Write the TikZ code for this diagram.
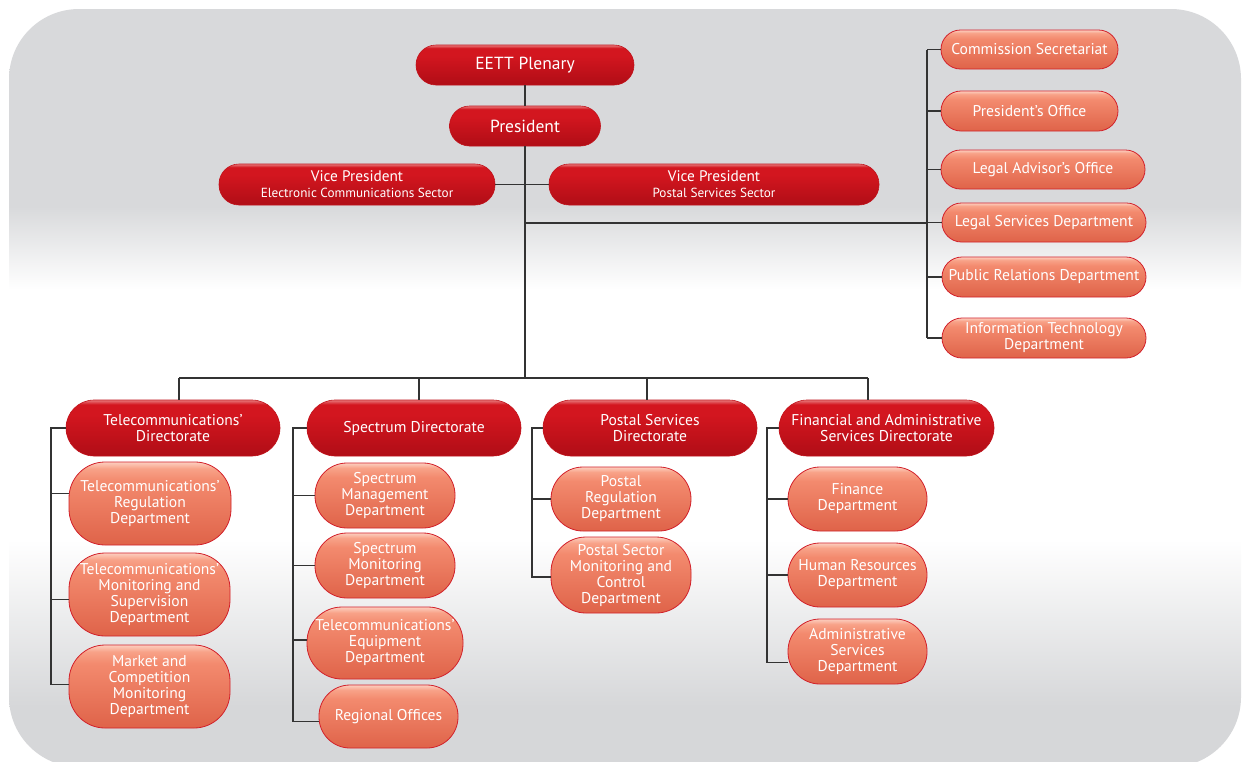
\documentclass[tikz,border=0pt]{standalone}
\usepackage{fontspec}
\setmainfont{PT Sans}
\definecolor{dkbot}{HTML}{B00D16}
\definecolor{dkmid}{HTML}{D3161F}
\definecolor{dktop}{HTML}{E77A7C}
\definecolor{dkedge}{HTML}{C0121B}
\definecolor{ltbot}{HTML}{DF6349}
\definecolor{ltmid}{HTML}{F38A6E}
\definecolor{lttop}{HTML}{F8A288}
\definecolor{lthl}{HTML}{FCCFC0}
\definecolor{ltedge}{HTML}{D2202A}
\definecolor{bggray}{HTML}{D8D9DB}
\definecolor{bggrayb}{HTML}{D6D7D9}
\definecolor{linec}{HTML}{333333}
\pgfdeclareverticalshading{dkshade}{100bp}{color(0bp)=(dkbot); color(25bp)=(dkbot); color(62bp)=(dkmid); color(71bp)=(dkmid); color(75bp)=(dktop); color(100bp)=(dktop)}
\pgfdeclareverticalshading{ltshade}{100bp}{color(0bp)=(ltbot); color(25bp)=(ltbot); color(64bp)=(ltmid); color(71bp)=(lttop); color(75bp)=(lthl); color(100bp)=(lthl)}
\pgfdeclareverticalshading{bgshade}{100bp}{color(0bp)=(bggrayb); color(29bp)=(bggrayb); color(40bp)=(white); color(56.5bp)=(white); color(62bp)=(bggray); color(100bp)=(bggray)}
\newcommand\fbig{\fontsize{17.5}{20}\selectfont}
\newcommand\fvp{\fontsize{15.3}{16}\selectfont}
\newcommand\fvps{\fontsize{13.2}{14}\selectfont}
\newcommand\fbx{\fontsize{15.6}{16}\selectfont}
\tikzset{
  dk/.style={shade, shading=dkshade, draw=dkedge, line width=0.6pt, text=white, align=center, inner sep=0pt, font=\fbx},
  lt/.style={shade, shading=ltshade, draw=ltedge, line width=0.8pt, text=white, align=center, inner sep=0pt, font=\fbx},
  sz/.style 2 args={minimum width=#1pt, minimum height=#2pt},
  rc/.style={rounded corners=#1pt},
  conn/.style={draw=linec, line width=1.4pt},
}
\begin{document}
\begin{tikzpicture}[x=1pt,y=-1pt]
\useasboundingbox (0,0) rectangle (1246,761);
\path[shade, shading=bgshade, rounded corners=70pt] (9,9) rectangle (1241,767);
% top
\node[dk, sz={218}{40}, rc=20, font=\fbig] (plen) at (525,65) {EETT Plenary};
\node[dk, sz={151}{40}, rc=20, font=\fbig] (pres) at (525,126) {President};
\node[dk, sz={276}{41}, rc=20, font=\fvp] (vp1) at (357,184.5) {Vice President\\{\fvps Electronic Communications Sector}};
\node[dk, sz={330}{41}, rc=20, font=\fvp] (vp2) at (714,184.5) {Vice President\\{\fvps Postal Services Sector}};
% right column
\node[lt, sz={177}{39}, rc=19.5] (r1) at (1029.5,49.5) {Commission Secretariat};
\node[lt, sz={177}{40}, rc=20] (r2) at (1029.5,111) {President’s Office};
\node[lt, sz={204}{39}, rc=19.5] (r3) at (1043,169.5) {Legal Advisor’s Office};
\node[lt, sz={204}{39}, rc=19.5] (r4) at (1044,222.5) {Legal Services Department};
\node[lt, sz={204}{40}, rc=20] (r5) at (1044,277) {Public Relations Department};
\node[lt, sz={204}{40}, rc=20] (r6) at (1044,338) {Information Technology\\Department};
% directorates
\node[dk, sz={214}{56}, rc=28] (d1) at (173,428) {Telecommunications’\\Directorate};
\node[dk, sz={214}{56}, rc=28] (d2) at (414,428) {Spectrum Directorate};
\node[dk, sz={214}{56}, rc=28] (d3) at (650,428) {Postal Services\\Directorate};
\node[dk, sz={215}{56}, rc=28] (d4) at (886.5,428) {Financial and Administrative\\Services Directorate};
% telecom
\node[lt, sz={162}{83}, rc=36] (t1) at (150,503.5) {Telecommunications’\\Regulation\\Department};
\node[lt, sz={161}{83}, rc=36] (t2) at (149.5,594.5) {Telecommunications’\\Monitoring and\\Supervision\\Department};
\node[lt, sz={161}{83}, rc=36] (t3) at (149.5,686.5) {Market and\\Competition\\Monitoring\\Department};
% spectrum
\node[lt, sz={140}{65}, rc=32] (s1) at (385,495.5) {Spectrum\\Management\\Department};
\node[lt, sz={140}{65}, rc=32] (s2) at (385,565.5) {Spectrum\\Monitoring\\Department};
\node[lt, sz={156}{72}, rc=35] (s3) at (385,643) {Telecommunications’\\Equipment\\Department};
\node[lt, sz={139}{63}, rc=31] (s4) at (388.5,716.5) {Regional Offices};
% postal
\node[lt, sz={140}{64}, rc=32] (p1) at (621,499) {Postal\\Regulation\\Department};
\node[lt, sz={140}{76}, rc=35] (p2) at (621,575) {Postal Sector\\Monitoring and\\Control\\Department};
% financial
\node[lt, sz={139}{64}, rc=32] (f1) at (857.5,499) {Finance\\Department};
\node[lt, sz={139}{64}, rc=32] (f2) at (857.5,575) {Human Resources\\Department};
\node[lt, sz={139}{65}, rc=32] (f3) at (857.5,651.5) {Administrative\\Services\\Department};
% coordinates
\coordinate (b1) at (179,378);
\coordinate (b2) at (419,378);
\coordinate (b3) at (647,378);
\coordinate (b4) at (868,378);
\coordinate (rcol) at (927,223);
\coordinate (tc) at (51,428);
\coordinate (sc) at (293,428);
\coordinate (pc) at (532,428);
\coordinate (fc) at (767,428);
% connectors top
\draw[conn] (plen) -- (pres);
\draw[conn] (pres.south) -- (pres.south |- b1);
\draw[conn] (vp1.east) -- (vp2.west);
\draw[conn] (pres.south |- rcol) -- (rcol);
\draw[conn] (rcol |- r1.west) -- (rcol |- r6.west);
\foreach \n in {r1,r2,r3,r4,r5,r6} \draw[conn] (rcol |- \n.west) -- (\n.west);
% bus
\draw[conn] (b1) -- (b4);
\draw[conn] (b1) -- (b1 |- d1.north);
\draw[conn] (b2) -- (b2 |- d2.north);
\draw[conn] (b3) -- (b3 |- d3.north);
\draw[conn] (b4) -- (b4 |- d4.north);
% telecom column
\draw[conn] (d1.west) -- (tc |- d1.west) |- ([yshift=2pt]t3.west);
\draw[conn] (tc |- t1.west) ++(0,-10) -- ([yshift=10pt]t1.west);
\draw[conn] (tc |- t2.west) ++(0,5) -- ([yshift=-5pt]t2.west);
% spectrum column
\draw[conn] (d2.west) -- (sc |- d2.west) |- ([yshift=-5pt]s4.west);
\draw[conn] (sc |- s1.west) -- (s1.west);
\draw[conn] (sc |- s2.west) -- (s2.west);
\draw[conn] (sc |- s3.west) ++(0,-3) -- ([yshift=3pt]s3.west);
% postal column
\draw[conn] (d3.west) -- (pc |- d3.west) |- ([yshift=-2pt]p2.west);
\draw[conn] (pc |- p1.west) -- (p1.west);
% financial column
\draw[conn] (d4.west) -- (fc |- d4.west) |- ([yshift=-11pt]f3.west);
\draw[conn] (fc |- f1.west) -- (f1.west);
\draw[conn] (fc |- f2.west) -- (f2.west);
\end{tikzpicture}
\end{document}
